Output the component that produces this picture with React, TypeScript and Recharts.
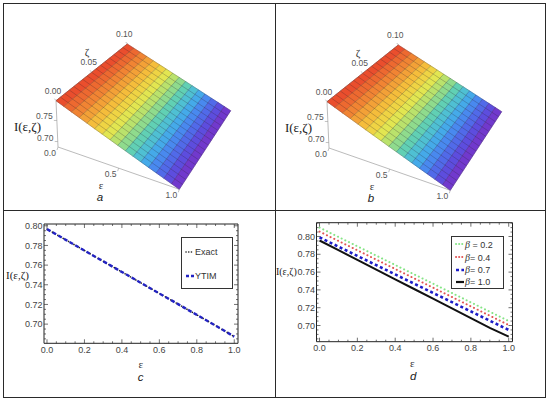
import React from 'react';
import { LineChart, Line, XAxis, YAxis, ScatterChart, Scatter } from 'recharts';

// ---- values ----
const epsValues = [0, 0.1, 0.2, 0.3, 0.4, 0.5, 0.6, 0.7, 0.8, 0.9, 1.0];
const exactValues = [0.7966, 0.7857, 0.7748, 0.7639, 0.753, 0.7421, 0.7312, 0.7203, 0.7094, 0.6985, 0.6873];
const ytimValues = [0.7966, 0.7857, 0.7748, 0.7639, 0.753, 0.7421, 0.7312, 0.7203, 0.7094, 0.6985, 0.6873];
const beta02 = [0.81, 0.7995, 0.789, 0.7785, 0.768, 0.7575, 0.747, 0.7365, 0.726, 0.7155, 0.705];
const beta04 = [0.8055, 0.795, 0.7845, 0.774, 0.7635, 0.753, 0.7425, 0.732, 0.7215, 0.711, 0.7005];
const beta07 = [0.799, 0.7886, 0.7782, 0.7678, 0.7574, 0.747, 0.7366, 0.7262, 0.7158, 0.7054, 0.695];
const beta10 = [0.7955, 0.7846, 0.7737, 0.7628, 0.7519, 0.741, 0.7301, 0.7192, 0.7083, 0.6974, 0.6874];

// surface grid (mesh nodes) for panels a and b
const surfEps = [0, 0.0625, 0.125, 0.1875, 0.25, 0.3125, 0.375, 0.4375, 0.5, 0.5625, 0.625, 0.6875, 0.75, 0.8125, 0.875, 0.9375, 1];
const surfZeta = [0, 0.00625, 0.0125, 0.01875, 0.025, 0.03125, 0.0375, 0.04375, 0.05, 0.05625, 0.0625, 0.06875, 0.075, 0.08125, 0.0875, 0.09375, 0.1];
const surfI = [0.797, 0.7901, 0.7833, 0.7764, 0.7695, 0.7626, 0.7558, 0.7489, 0.742, 0.7351, 0.7283, 0.7214, 0.7145, 0.7076, 0.7008, 0.6939, 0.687];

// tick labels
const xMajor = [0, 0.2, 0.4, 0.6, 0.8, 1.0];
const yMajor = [0.7, 0.72, 0.74, 0.76, 0.78, 0.8];
const zetaTickVals = [0, 0.05, 0.1];
const zetaTickLabels = ['0.00', '0.05', '0.10'];
const iTickVals = [0.7, 0.75];
const iTickLabels = ['0.70', '0.75'];
const epsTickVals = [0, 0.5, 1.0];
const epsTickLabels = ['0.0', '0.5', '1.0'];

const SANS = '"Liberation Sans", Arial, sans-serif';
const SERIF = '"Liberation Serif", "Times New Roman", serif';

// ---- 3D view: box corners on screen, BOX[eps][zeta][height] ----
const I_LO = 0.687;
const I_HI = 0.797;
const Z_HI = 0.1;
const BOX = [
  [[[58, 147], [56, 100.7]], [[128.3, 84], [127.3, 44]]],
  [[[179.3, 189.3], [177.8, 144.3]], [[230.7, 110.7], [230.2, 70.7]]],
];

function project(eps, zeta, val, dx, dy) {
  const w = [[1 - eps, eps], [1 - zeta / Z_HI, zeta / Z_HI], [1 - (val - I_LO) / (I_HI - I_LO), (val - I_LO) / (I_HI - I_LO)]];
  let x = 0;
  let y = 0;
  for (let a = 0; a < 2; a++)
    for (let b = 0; b < 2; b++)
      for (let c = 0; c < 2; c++) {
        const k = w[0][a] * w[1][b] * w[2][c];
        x += k * BOX[a][b][c][0];
        y += k * BOX[a][b][c][1];
      }
  return { x: x + dx, y: y + dy };
}

const rainbow = [
  [0, [123, 47, 196]],
  [0.1, [91, 79, 224]],
  [0.2, [74, 127, 240]],
  [0.3, [68, 180, 232]],
  [0.4, [92, 207, 184]],
  [0.5, [166, 224, 122]],
  [0.6, [230, 230, 78]],
  [0.7, [246, 198, 60]],
  [0.82, [242, 143, 52]],
  [1, [232, 64, 44]],
];

function colorAt(t) {
  for (let i = 0; i < rainbow.length - 1; i++) {
    const [t0, c0] = rainbow[i];
    const [t1, c1] = rainbow[i + 1];
    if (t <= t1) {
      const f = (t - t0) / (t1 - t0);
      const c = c0.map((v, j) => Math.round(v + (c1[j] - v) * f));
      return `rgb(${c[0]},${c[1]},${c[2]})`;
    }
  }
  return 'rgb(232,64,44)';
}

const NoDot = () => <g />;

const LabelShape = (p) => {
  const d = p.payload;
  const styles = {
    tick: { fontSize: 8.5, fill: '#555', fontFamily: SANS },
    title: { fontSize: 11, fill: '#333', fontFamily: SERIF },
    ylabel: { fontSize: 13, fill: '#222', fontFamily: SERIF },
    letter: { fontSize: 11.5, fill: '#222', fontFamily: SANS, fontStyle: 'italic' },
  };
  return (
    <g>
      {d.tx != null && (
        <line x1={p.cx} y1={p.cy} x2={p.cx + d.tx} y2={p.cy + d.ty} stroke="#999" strokeWidth={0.6} />
      )}
      <text x={p.cx + d.ox} y={p.cy + d.oy} textAnchor="middle" dominantBaseline="central" {...styles[d.kind]}>
        {d.text}
      </text>
    </g>
  );
};

function Surface3D({ dx, dy, letter }) {
  const P = (e, z, v) => project(e, z, v, dx, dy);
  const n = surfEps.length;
  const zLast = surfZeta[surfZeta.length - 1];

  const strips = [];
  for (let i = 0; i < n - 1; i++) {
    const t = ((surfI[i] + surfI[i + 1]) / 2 - I_LO) / (I_HI - I_LO);
    strips.push({
      color: colorAt(t),
      pts: [
        P(surfEps[i], 0, surfI[i]),
        P(surfEps[i], zLast, surfI[i]),
        P(surfEps[i + 1], zLast, surfI[i + 1]),
        P(surfEps[i + 1], 0, surfI[i + 1]),
        P(surfEps[i], 0, surfI[i]),
      ],
    });
  }
  const meshZeta = surfZeta.map((z) => surfEps.map((e, i) => P(e, z, surfI[i])));
  const meshEps = surfEps.map((e, i) => surfZeta.map((z) => P(e, z, surfI[i])));

  const axes = [
    [P(0, 0, I_LO), P(0, 0, I_HI)],
    [P(0, 0, I_HI), P(0, zLast, I_HI)],
    [P(0, 0, I_LO), P(1, 0, I_LO)],
  ];

  const labels = [
    ...zetaTickVals.map((z, k) => ({ ...P(0, z, I_HI), text: zetaTickLabels[k], ox: -3, oy: -10, kind: 'tick', tx: -1.5, ty: -2 })),
    ...iTickVals.map((v, k) => ({ ...P(0, 0, v), text: iTickLabels[k], ox: -12.5, oy: -4, kind: 'tick', tx: -3, ty: 0 })),
    ...epsTickVals.map((e, k) => ({ ...P(e, 0, I_LO), text: epsTickLabels[k], ox: -8, oy: 6, kind: 'tick', tx: -1, ty: 3 })),
    { ...P(0, 0.05, I_HI), text: 'ζ', ox: -4.6, oy: -20, kind: 'title' },
    { ...P(0.5, 0, I_LO), text: 'ε', ox: -17.6, oy: 17, kind: 'title' },
    { ...P(0, 0, (I_LO + I_HI) / 2), text: 'I(ε,ζ)', ox: -29.5, oy: 3, kind: 'ylabel' },
    { ...P(0.5, 0, I_LO), text: letter, ox: -18.6, oy: 28.5, kind: 'letter' },
  ];

  return (
    <ScatterChart width={275} height={210} margin={{ top: 0, right: 0, bottom: 0, left: 0 }}>
      <XAxis type="number" dataKey="x" domain={[0, 275]} allowDataOverflow hide />
      <YAxis type="number" dataKey="y" domain={[0, 210]} allowDataOverflow reversed hide />
      {axes.map((seg, k) => (
        <Scatter key={`ax${k}`} data={seg} shape={NoDot} line={{ stroke: '#aaa', strokeWidth: 0.8 }} isAnimationActive={false} />
      ))}
      {strips.map((s, k) => (
        <Scatter
          key={`st${k}`}
          data={s.pts}
          shape={NoDot}
          line={{ fill: s.color, stroke: s.color, strokeWidth: 0.6 }}
          isAnimationActive={false}
        />
      ))}
      {meshZeta.map((pts, k) => (
        <Scatter key={`mz${k}`} data={pts} shape={NoDot} line={{ stroke: 'rgba(40,30,40,0.5)', strokeWidth: 0.5 }} isAnimationActive={false} />
      ))}
      {meshEps.map((pts, k) => (
        <Scatter key={`me${k}`} data={pts} shape={NoDot} line={{ stroke: 'rgba(40,30,40,0.5)', strokeWidth: 0.5 }} isAnimationActive={false} />
      ))}
      <Scatter data={labels} shape={LabelShape} isAnimationActive={false} />
    </ScatterChart>
  );
}

// ---- framed 2D panels ----
const near = (list, v) => list.some((m) => Math.abs(m - v) < 1e-6);

const FrameTick = (props) => {
  const { x, y, payload, side, majors, digits, showLabel } = props;
  const v = payload.value;
  const major = near(majors, v);
  const len = major ? 4 : 2;
  let x2 = x;
  let y2 = y;
  if (side === 'bottom') y2 = y - len;
  else if (side === 'top') y2 = y + len;
  else if (side === 'left') x2 = x + len;
  else x2 = x - len;
  const txt = { fontSize: 9, fill: '#444', fontFamily: SANS };
  return (
    <g>
      <line x1={x} y1={y} x2={x2} y2={y2} stroke="#333" strokeWidth={0.7} />
      {showLabel && major && side === 'bottom' && (
        <text x={x} y={y + 9.3} textAnchor="middle" {...txt}>{v.toFixed(digits)}</text>
      )}
      {showLabel && major && side === 'left' && (
        <text x={x - 1.5} y={y + 3.2} textAnchor="end" {...txt}>{v.toFixed(digits)}</text>
      )}
    </g>
  );
};

function stepTicks(lo, hi, step) {
  const out = [];
  for (let v = Math.ceil(lo / step - 1e-9) * step; v <= hi + 1e-9; v += step) out.push(Math.round(v * 10000) / 10000);
  return out;
}

// axes of 1px size (a zero-size axis is not drawn); margins below subtract that pixel
function frameAxes(xDom, yDom) {
  const xt = stepTicks(Math.max(xDom[0], 0), xDom[1], 0.05);
  const yt = stepTicks(yDom[0], yDom[1], 0.005);
  const common = { type: 'number', allowDataOverflow: true, interval: 0, tickSize: 0, tickMargin: 0, tickLine: false, axisLine: { stroke: '#222', strokeWidth: 1 } };
  return [
    <XAxis key="xb" xAxisId="b" dataKey="eps" domain={xDom} ticks={xt} height={1} {...common}
      tick={(p) => <FrameTick {...p} side="bottom" majors={xMajor} digits={1} showLabel />} />,
    <XAxis key="xt" xAxisId="t" orientation="top" dataKey="eps" domain={xDom} ticks={xt} height={1} {...common}
      tick={(p) => <FrameTick {...p} side="top" majors={xMajor} digits={1} />} />,
    <YAxis key="yl" yAxisId="l" domain={yDom} ticks={yt} width={1} {...common}
      tick={(p) => <FrameTick {...p} side="left" majors={yMajor} digits={2} showLabel />} />,
    <YAxis key="yr" yAxisId="r" orientation="right" domain={yDom} ticks={yt} width={1} {...common}
      tick={(p) => <FrameTick {...p} side="right" majors={yMajor} digits={2} />} />,
  ];
}

const rowsC = epsValues.map((e, i) => ({ eps: e, exact: exactValues[i], ytim: ytimValues[i] }));
const rowsD = epsValues.map((e, i) => ({ eps: e, b02: beta02[i], b04: beta04[i], b07: beta07[i], b10: beta10[i] }));

const Text = ({ x, y, children, style }) => (
  <span style={{ position: 'absolute', left: x, top: y, transform: 'translate(-50%, -50%)', whiteSpace: 'nowrap', lineHeight: 1, ...style }}>
    {children}
  </span>
);

const Sample = ({ stroke, width, dash, cap }) => (
  <svg width={10} height={6} style={{ position: 'absolute', left: 3, top: -3 }}>
    <line x1={1} y1={3} x2={9} y2={3} stroke={stroke} strokeWidth={width} strokeDasharray={dash} strokeLinecap={cap} />
  </svg>
);

const LegendRow = ({ top, sample, children }) => (
  <div style={{ position: 'absolute', left: 0, top, height: 0 }}>
    {sample}
    <span style={{ position: 'absolute', left: 13, top: -5.5, whiteSpace: 'nowrap', fontSize: 9, lineHeight: '11px', color: '#333', fontFamily: SANS }}>
      {children}
    </span>
  </div>
);

const Beta = ({ v, gap }) => (
  <>
    <span style={{ fontFamily: SERIF, fontStyle: 'italic', fontSize: 10 }}>β</span>
    {gap ? ' = ' : '= '}
    {v}
  </>
);

export default function App() {
  const yDomC = [0.6805, 0.8018];
  const yDomD = [0.6818, 0.8155];
  const xDom = [-0.016, 1.02];
  return (
    <div style={{ position: 'absolute', left: 0, top: 0, width: 550, height: 402, background: '#fff', overflow: 'hidden' }}>
      <div style={{ position: 'absolute', left: 0, top: 0 }}>
        <Surface3D dx={0} dy={0} letter="a" />
      </div>
      <div style={{ position: 'absolute', left: 275, top: 0 }}>
        <Surface3D dx={-4} dy={1} letter="b" />
      </div>

      <div style={{ position: 'absolute', left: 0, top: 210 }}>
        <LineChart width={275} height={192} data={rowsC} margin={{ top: 13, right: 36, bottom: 57.7, left: 43 }}>
          {frameAxes(xDom, yDomC)}
          <Line xAxisId="b" yAxisId="l" dataKey="exact" type="linear" stroke="#222" strokeWidth={1.6} strokeDasharray="0.1 3" strokeLinecap="round" dot={false} isAnimationActive={false} />
          <Line xAxisId="b" yAxisId="l" dataKey="ytim" type="linear" stroke="#2323c4" strokeWidth={2.4} strokeDasharray="4 2.5" dot={false} isAnimationActive={false} />
        </LineChart>
      </div>

      <div style={{ position: 'absolute', left: 275, top: 210 }}>
        <LineChart width={275} height={192} data={rowsD} margin={{ top: 11.7, right: 36.5, bottom: 59.3, left: 40.5 }}>
          {frameAxes(xDom, yDomD)}
          <Line xAxisId="b" yAxisId="l" dataKey="b02" type="linear" stroke="#86e486" strokeWidth={2} strokeDasharray="0.1 4" strokeLinecap="round" dot={false} isAnimationActive={false} />
          <Line xAxisId="b" yAxisId="l" dataKey="b04" type="linear" stroke="#e05555" strokeWidth={2} strokeDasharray="0.1 4" strokeLinecap="round" dot={false} isAnimationActive={false} />
          <Line xAxisId="b" yAxisId="l" dataKey="b07" type="linear" stroke="#1c1cc8" strokeWidth={2.6} strokeDasharray="3 2.6" dot={false} isAnimationActive={false} />
          <Line xAxisId="b" yAxisId="l" dataKey="b10" type="linear" stroke="#111" strokeWidth={2} dot={false} isAnimationActive={false} />
        </LineChart>
      </div>

      {/* axis titles of the 2D panels */}
      <Text x={17.5} y={275} style={{ fontFamily: SERIF, fontSize: 11, color: '#222' }}>I(ε,ζ)</Text>
      <Text x={140.7} y={364} style={{ fontFamily: SERIF, fontSize: 11, color: '#333' }}>ε</Text>
      <Text x={140.7} y={378} style={{ fontFamily: SANS, fontSize: 11.5, fontStyle: 'italic', color: '#222' }}>c</Text>
      <Text x={286.3} y={272} style={{ fontFamily: SERIF, fontSize: 10, color: '#222' }}>I(ε,ζ)</Text>
      <Text x={412.3} y={363} style={{ fontFamily: SERIF, fontSize: 11, color: '#333' }}>ε</Text>
      <Text x={413.3} y={377} style={{ fontFamily: SANS, fontSize: 11.5, fontStyle: 'italic', color: '#222' }}>d</Text>

      {/* legend c */}
      <div style={{ position: 'absolute', left: 181, top: 237, width: 52, height: 52, border: '1px solid #333', boxSizing: 'border-box' }}>
        <LegendRow top={14} sample={<Sample stroke="#222" width={1.6} dash="0.1 2.6" cap="round" />}>Exact</LegendRow>
        <LegendRow top={38} sample={<Sample stroke="#2323c4" width={2.4} dash="3 2" />}>YTIM</LegendRow>
      </div>

      {/* legend d */}
      <div style={{ position: 'absolute', left: 451, top: 236, width: 53, height: 53, border: '1px solid #333', boxSizing: 'border-box' }}>
        <LegendRow top={7.3} sample={<Sample stroke="#86e486" width={2} dash="0.1 3" cap="round" />}><Beta v="0.2" gap /></LegendRow>
        <LegendRow top={20.2} sample={<Sample stroke="#e05555" width={2} dash="0.1 3" cap="round" />}><Beta v="0.4" /></LegendRow>
        <LegendRow top={32.8} sample={<Sample stroke="#1c1cc8" width={2.6} dash="3 2.4" />}><Beta v="0.7" /></LegendRow>
        <LegendRow top={44.5} sample={<Sample stroke="#111" width={2.2} />}><Beta v="1.0" /></LegendRow>
      </div>

      {/* panel frame */}
      <div style={{ position: 'absolute', left: 3, top: 3, width: 543, height: 395, border: '1.5px solid #2a2a2a', boxSizing: 'border-box' }} />
      <div style={{ position: 'absolute', left: 274.5, top: 3, width: 1.5, height: 395, background: '#2a2a2a' }} />
      <div style={{ position: 'absolute', left: 3, top: 209.5, width: 543, height: 1.5, background: '#2a2a2a' }} />
    </div>
  );
}
